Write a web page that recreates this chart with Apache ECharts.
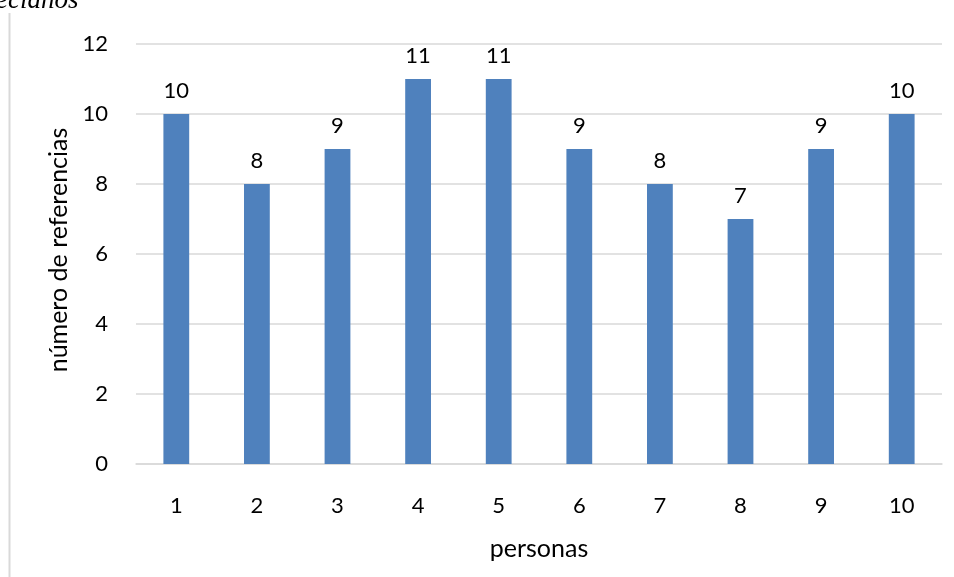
<!DOCTYPE html>
<html>
<head>
<meta charset="utf-8">
<script src="https://cdn.jsdelivr.net/npm/echarts@6/dist/echarts.min.js"></script>
<style>
  html, body { margin: 0; padding: 0; background: #fff; }
  #chart { width: 954px; height: 577px; }
</style>
</head>
<body>
<div id="chart"></div>
<script>
// Referencias por persona
const personas = ['1', '2', '3', '4', '5', '6', '7', '8', '9', '10'];
const referencias = [10, 8, 9, 11, 11, 9, 8, 7, 9, 10];

const font = 'Lato, "Noto Sans", sans-serif';

const chart = echarts.init(document.getElementById('chart'));
chart.setOption({
  animation: false,
  grid: { left: 136, right: 12, top: 44, bottom: 113 },
  graphic: [
    {
      type: 'text',
      left: -4,
      top: -13,
      style: {
        text: 'ecianos',
        font: 'italic 27px "Liberation Serif", serif',
        fill: '#000'
      }
    },
    {
      type: 'line',
      shape: { x1: 9.5, y1: 13, x2: 9.5, y2: 577 },
      style: { stroke: '#d9d9d9', lineWidth: 2 }
    }
  ],
  xAxis: {
    type: 'category',
    data: personas,
    name: 'personas',
    nameLocation: 'middle',
    nameGap: 72,
    nameTextStyle: { fontFamily: font, fontSize: 25, color: '#000' },
    axisLine: { lineStyle: { color: '#d9d9d9', width: 1.5 } },
    axisTick: { show: false },
    axisLabel: { fontFamily: font, fontSize: 22, color: '#000', margin: 31 }
  },
  yAxis: {
    type: 'value',
    min: 0,
    max: 12,
    interval: 2,
    name: 'número de referencias',
    nameLocation: 'middle',
    nameGap: 56,
    nameTextStyle: { fontFamily: font, fontSize: 25, color: '#000', padding: [0, 0, 0, 8] },
    axisLine: { show: false },
    axisTick: { show: false },
    axisLabel: { fontFamily: font, fontSize: 22, color: '#000', margin: 28 },
    splitLine: { lineStyle: { color: '#d9d9d9', width: 1.5 } }
  },
  series: [{
    type: 'bar',
    data: referencias,
    barWidth: '32%',
    itemStyle: { color: '#4f81bd' },
    label: {
      show: true,
      position: 'top',
      distance: 12,
      fontFamily: font,
      fontSize: 22,
      color: '#000'
    }
  }]
});
</script>
</body>
</html>
